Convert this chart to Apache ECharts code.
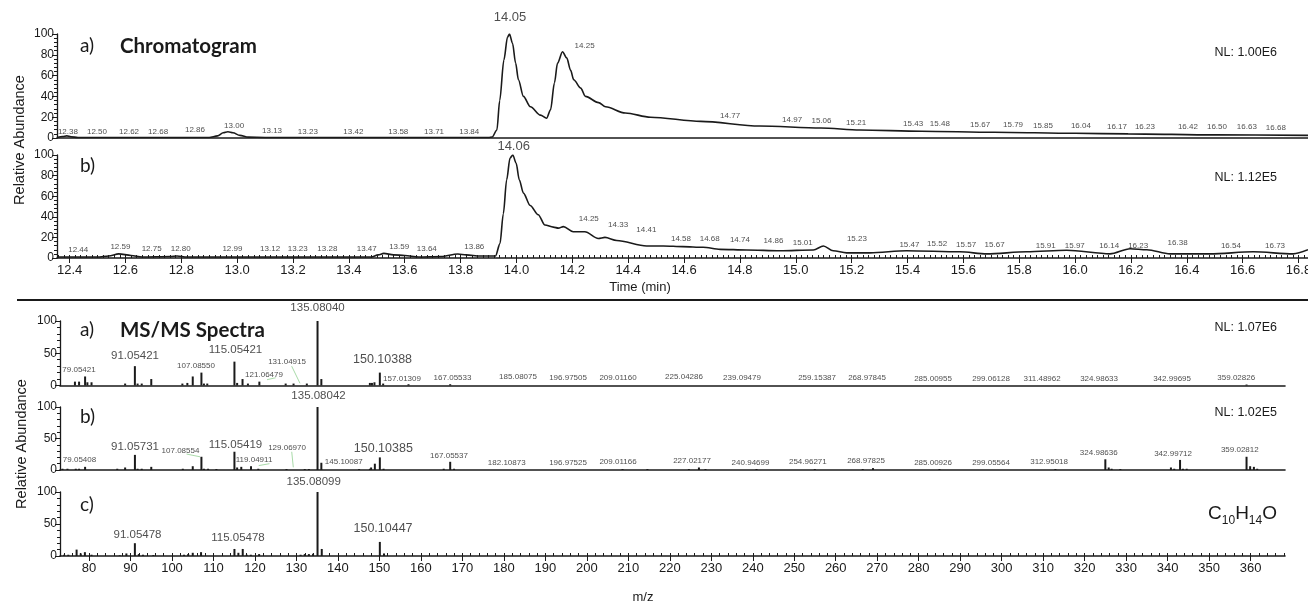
<!DOCTYPE html>
<html>
<head>
<meta charset="utf-8">
<script src="https://cdn.jsdelivr.net/npm/echarts@6.0.0/dist/echarts.min.js"></script>
<style>html,body{margin:0;padding:0;background:#fff}#chart{width:1308px;height:603px}</style>
</head>
<body>
<div id="chart"></div>
<script>
// chromatogram traces (time in min, relative abundance %)
var chromATime = [12.355,12.375,12.39,12.405,12.43,12.6,12.9,12.93,12.95,12.967,12.985,13.01,13.04,13.1,13.5,13.9,13.913,13.93,13.94,13.955,13.968,13.975,13.986,13.997,14.007,14.025,14.05,14.086,14.108,14.122,14.136,14.147,14.165,14.18,14.194,14.205,14.23,14.247,14.294,14.319,14.39,14.48,14.66,14.87,15.09,15.23,15.45,15.71,16.0,16.19,16.5,16.834];
var chromAValue = [0.5,1.5,2,1.2,0.5,0.5,0.5,2,5,6,5,2.5,0.8,0.5,0.5,0.5,1,7.7,36,75,97,100,91,72,56,40,30,22,19,27,53,72,83,77,65,56,48,40,34,30,24,20,16,11.5,9.6,7.7,6.5,5.5,4.5,4,3,2.5];
var chromBTime = [12.355,12.5,12.54,12.576,12.62,12.66,12.76,12.785,12.82,13.0,13.48,13.505,13.525,13.56,13.6,13.65,13.73,13.79,13.82,13.87,13.925,13.941,13.953,13.965,13.977,13.987,13.999,14.01,14.025,14.049,14.078,14.102,14.132,14.15,14.168,14.203,14.245,14.293,14.317,14.359,14.466,14.526,14.596,14.668,14.729,14.824,14.944,15.063,15.099,15.134,15.182,15.266,15.397,15.588,15.684,15.827,15.97,16.125,16.197,16.257,16.34,16.483,16.638,16.781,16.834];
var chromBValue = [1,1,2,4,2.5,1,1.5,2,1,1,1,3,4.5,3,2.5,1,1.5,3.9,3,2,2,14,43,76,97,100,92,76,63,51,42,32,30,29,30.5,25.5,25.5,19,20,17,11.7,11.7,11,10.4,8.4,7.8,7,7.8,11.7,7,5,5,7,6,4,6,7.5,4,9,8,4,4,6,4,8];

// peak annotations [time, abundance, text]
var chromALabels = [[12.394,6,'12.38'],[12.498,6,'12.50'],[12.613,6,'12.62'],[12.717,6,'12.68'],[12.849,7.7,'12.86'],[12.989,11.8,'13.00'],[13.125,7.4,'13.13'],[13.253,6.4,'13.23'],[13.416,6.4,'13.42'],[13.577,6.4,'13.58'],[13.705,6.4,'13.71'],[13.831,6,'13.84'],[13.977,116,'14.05'],[14.244,88.7,'14.25'],[14.765,21,'14.77'],[14.987,17.3,'14.97'],[15.092,16.6,'15.06'],[15.216,14.7,'15.21'],[15.42,14.1,'15.43'],[15.516,13.5,'15.48'],[15.66,12.5,'15.67'],[15.778,12.5,'15.79'],[15.885,11.8,'15.85'],[16.021,11.5,'16.04'],[16.15,10.6,'16.17'],[16.25,10.6,'16.23'],[16.404,10.3,'16.42'],[16.508,10.3,'16.50'],[16.615,10.6,'16.63'],[16.719,9.6,'16.68']];
var chromBLabels = [[12.431,8.4,'12.44'],[12.582,10.4,'12.59'],[12.694,8.7,'12.75'],[12.798,9.4,'12.80'],[12.983,8.7,'12.99'],[13.118,8.7,'13.12'],[13.217,8.7,'13.23'],[13.323,8.7,'13.28'],[13.464,8.7,'13.47'],[13.58,11,'13.59'],[13.679,8.7,'13.64'],[13.849,10.4,'13.86'],[13.99,108.7,'14.06'],[14.259,37.6,'14.25'],[14.364,32,'14.33'],[14.465,27.2,'14.41'],[14.589,19.1,'14.58'],[14.692,18.8,'14.68'],[14.8,17.5,'14.74'],[14.92,16.5,'14.86'],[15.025,14.9,'15.01'],[15.219,18.4,'15.23'],[15.407,13.3,'15.47'],[15.506,13.6,'15.52'],[15.61,13.3,'15.57'],[15.712,13.3,'15.67'],[15.895,12,'15.91'],[15.999,11.7,'15.97'],[16.122,12,'16.14'],[16.226,11.7,'16.23'],[16.367,14.9,'16.38'],[16.558,12,'16.54'],[16.716,11.7,'16.73']];

// MS/MS spectra [m/z, relative abundance %]
var msA = [[76.6,6],[77.6,6],[79.05,14],[79.6,5],[80.6,5],[88.7,3],[91.05,30],[91.7,3],[92.7,3],[95.0,10],[102.5,3],[103.7,4],[105.0,14],[107.09,20],[107.7,3],[108.5,3],[115.05,37],[115.7,4],[117.0,10],[118.3,3],[121.06,6],[127.4,3],[129.3,3],[132.5,3],[135.08,100],[136.0,10],[147.7,4],[148.2,4],[148.8,5],[150.10,20],[150.9,3],[157.01,2],[167.06,2],[359.03,1.5]];
var msB = [[73.6,2],[74.8,2],[76.8,2],[77.6,2],[79.05,5],[86.8,2],[88.7,4],[91.06,24],[91.7,2],[92.7,2],[95.0,5],[102.6,2],[105.0,6],[107.09,21],[107.7,2],[108.7,2],[110.7,1.5],[115.05,29],[115.7,4],[116.7,5],[119.05,6],[120.8,2],[127.6,1.5],[132.0,1.5],[133.0,1.5],[135.08,100],[136.0,11.5],[145.1,1.5],[147.7,2],[148.0,4],[148.9,10],[150.10,20],[151.0,2],[165.5,2],[167.06,13],[168.0,2],[208.6,1.5],[214.6,1.5],[224.6,1.5],[227.02,4],[228.6,1.5],[240.9,1.5],[254.96,1.5],[266.5,1.5],[268.98,3],[285.0,1.5],[312.95,1.5],[324.99,17],[325.8,4],[326.5,2],[328.6,1.5],[340.8,4],[341.6,2],[343.0,16],[343.7,2],[344.6,2],[359.03,21],[359.9,6],[360.8,5],[361.6,2]];
var msC = [[74,2],[75.0,2],[77.0,10],[78.0,4],[79.0,6],[80.6,2],[87.4,1],[89.0,4],[91.05,20],[92.0,3],[93.0,2],[95.5,1.5],[102.9,2],[103.9,3],[105.0,5],[107.0,6],[115.05,11],[116.0,5],[117.05,11],[118.0,2],[119.0,2],[121.0,3],[131.0,2],[132.0,3],[133.0,3],[134.0,3.5],[135.08,100],[136.1,11],[150.10,22],[151.1,4]];

// peak annotations [m/z, abundance, text]
var msALabels = [[77.58,25.1,'79.05421'],[91.08,45.7,'91.05421'],[105.79,30.2,'107.08550'],[115.31,55,'115.05421'],[122.18,16.3,'121.06479'],[127.73,36.9,'131.04915'],[135.08,120.6,'135.08040'],[150.75,41,'150.10388'],[155.45,10,'157.01309'],[167.62,11.6,'167.05533'],[183.41,13.2,'185.08075'],[195.47,11.6,'196.97505'],[207.52,11.6,'209.01160'],[223.43,13.2,'225.04286'],[237.41,11.6,'239.09479'],[255.5,11.6,'259.15387'],[267.55,11.6,'268.97845'],[283.46,10,'285.00955'],[297.44,10,'299.06128'],[309.74,10,'311.48962'],[323.48,10,'324.98633'],[341.08,10,'342.99695'],[356.54,11.6,'359.02826']];
var msBLabels = [[77.7,15.8,'79.05408'],[91.08,36.3,'91.05731'],[102.05,30.5,'107.08554'],[115.31,39.5,'115.05419'],[119.77,15.8,'119.04911'],[127.73,35.9,'129.06970'],[135.32,118.5,'135.08042'],[141.4,13.1,'145.10087'],[150.94,34.3,'150.10385'],[166.78,22.6,'167.05537'],[180.69,11.5,'182.10873'],[195.47,11.5,'196.97525'],[207.52,13.1,'209.01166'],[225.36,14.7,'227.02177'],[239.46,12.2,'240.94699'],[253.28,13.1,'254.96271'],[267.31,14.7,'268.97825'],[283.46,12.2,'285.00926'],[297.44,11,'299.05564'],[311.43,13.1,'312.95018'],[323.41,27.3,'324.98636'],[341.32,25.3,'342.99712'],[357.4,31.6,'359.02812']];
var msCLabels = [[91.68,32.5,'91.05478'],[115.91,28.9,'115.05478'],[134.16,116.2,'135.08099'],[150.87,43,'150.10447']];

// leader lines from labels to their peaks [[m/z, %], [m/z, %]]
var msALeaders = [[[128.85, 30], [130.85, 3.4]], [[122.9, 9], [125.0, 12]]];
var msBLeaders = [[[103.5, 25.3], [106.75, 21]], [[128.86, 28.9], [129.24, 4.3]], [[120.9, 7], [123.5, 10]]];

var chromTicks = [12.4,12.6,12.8,13.0,13.2,13.4,13.6,13.8,14.0,14.2,14.4,14.6,14.8,15.0,15.2,15.4,15.6,15.8,16.0,16.2,16.4,16.6,16.8];
var msTicks = [80,90,100,110,120,130,140,150,160,170,180,190,200,210,220,230,240,250,260,270,280,290,300,310,320,330,340,350,360];

var FONT = '"Liberation Sans", Arial, sans-serif';
var TFONT = 'Lato, "Open Sans", sans-serif';
var INK = '#1a1a1a';
var LEAD = '#a9dba9';
var tMin = 12.355, tMax = 16.834, mzMin = 73, mzMax = 368.3;

var chromMinor = [];
for (var v = 1236; v <= 1683; v += 2) chromMinor.push(v / 100);
var msMinor = [];
for (var m = 74; m <= 368; m += 2) msMinor.push(m);

function zip(a, b) { return a.map(function (x, i) { return [x, b[i]]; }); }

function labelSize(t) {
    if (/^14\.0[56]$/.test(t)) return 13;
    if (/^150\./.test(t)) return 12.5;
    if (/^(91|115|135)\./.test(t)) return 11.5;
    return 8;
}

function labelSeries(xi, yi, list) {
    return {
        type: 'scatter', xAxisIndex: xi, yAxisIndex: yi, symbolSize: 1, clip: false, silent: true, z: 5,
        itemStyle: { color: 'transparent' },
        label: { show: true, position: 'inside', formatter: '{b}', color: '#222', fontFamily: FONT },
        data: list.map(function (d) {
            return { value: [d[0], d[1]], name: d[2], label: { fontSize: labelSize(d[2]) } };
        })
    };
}

function leaderMarks(list) {
    return {
        silent: true, symbol: ['none', 'none'], label: { show: false },
        lineStyle: { color: LEAD, width: 1, type: 'solid' },
        data: list.map(function (l) { return [{ coord: l[0] }, { coord: l[1] }]; })
    };
}

function yAxisDef(gi, interval) {
    return {
        type: 'value', gridIndex: gi, min: 0, max: 100, interval: interval,
        splitLine: { show: false },
        axisLine: { show: true, lineStyle: { color: INK, width: 1.3 } },
        axisTick: { show: true, length: 5, lineStyle: { color: INK } },
        minorTick: { show: true, splitNumber: 5, length: 3, lineStyle: { color: INK } },
        axisLabel: { color: INK, fontSize: 12, fontFamily: FONT, margin: 3 }
    };
}

function xAxisDef(gi, min, max, opts) {
    return Object.assign({
        type: 'value', gridIndex: gi, min: min, max: max,
        splitLine: { show: false },
        axisLine: { show: true, onZero: false, lineStyle: { color: INK, width: 1.6 } },
        axisTick: { show: false },
        axisLabel: { show: false }
    }, opts || {});
}

function majorX(ticks, fmt) {
    return {
        axisTick: { show: true, length: 5, customValues: ticks, lineStyle: { color: INK } },
        axisLabel: { show: true, customValues: ticks, formatter: fmt, color: INK, fontSize: 13, fontFamily: FONT, margin: 6 }
    };
}
function minorX(ticks) {
    return {
        axisLine: { show: false },
        axisTick: { show: true, length: 3, customValues: ticks, lineStyle: { color: INK } },
        axisLabel: { show: false, customValues: ticks }
    };
}

function gtext(text, x, y, size, opts) {
    return {
        type: 'text', x: x, y: y,
        style: Object.assign({ text: text, fontSize: size, fontFamily: FONT, fill: INK, align: 'left', verticalAlign: 'middle' }, opts || {})
    };
}

var chart = echarts.init(document.getElementById('chart'));
var option = {
    animation: false,
    backgroundColor: '#fff',
    grid: [
        { left: 57, top: 34, width: 1251, height: 104, outerBoundsMode: 'none' },
        { left: 57, top: 155, width: 1251, height: 103, outerBoundsMode: 'none' },
        { left: 60, top: 321, width: 1225, height: 64.5, outerBoundsMode: 'none' },
        { left: 60, top: 407, width: 1225, height: 63, outerBoundsMode: 'none' },
        { left: 60, top: 492, width: 1225, height: 64, outerBoundsMode: 'none' }
    ],
    xAxis: [
        xAxisDef(0, tMin, tMax),
        xAxisDef(1, tMin, tMax, majorX(chromTicks, function (v) { return v.toFixed(1); })),
        xAxisDef(1, tMin, tMax, minorX(chromMinor)),
        xAxisDef(2, mzMin, mzMax),
        xAxisDef(3, mzMin, mzMax),
        xAxisDef(4, mzMin, mzMax, majorX(msTicks, function (v) { return String(v); })),
        xAxisDef(4, mzMin, mzMax, minorX(msMinor))
    ],
    yAxis: [yAxisDef(0, 20), yAxisDef(1, 20), yAxisDef(2, 50), yAxisDef(3, 50), yAxisDef(4, 50)],
    series: [
        { type: 'line', xAxisIndex: 0, yAxisIndex: 0, data: zip(chromATime, chromAValue), showSymbol: false, smooth: 0.3, smoothMonotone: 'x', lineStyle: { color: INK, width: 1.6 } },
        { type: 'line', xAxisIndex: 1, yAxisIndex: 1, data: zip(chromBTime, chromBValue), showSymbol: false, smooth: 0.3, smoothMonotone: 'x', lineStyle: { color: INK, width: 1.6 } },
        { type: 'bar', xAxisIndex: 3, yAxisIndex: 2, data: msA, barWidth: 2, itemStyle: { color: INK }, markLine: leaderMarks(msALeaders) },
        { type: 'bar', xAxisIndex: 4, yAxisIndex: 3, data: msB, barWidth: 2, itemStyle: { color: INK }, markLine: leaderMarks(msBLeaders) },
        { type: 'bar', xAxisIndex: 5, yAxisIndex: 4, data: msC, barWidth: 2, itemStyle: { color: INK } },
        labelSeries(0, 0, chromALabels),
        labelSeries(1, 1, chromBLabels),
        labelSeries(3, 2, msALabels),
        labelSeries(4, 3, msBLabels),
        labelSeries(5, 4, msCLabels)
    ],
    graphic: [
        gtext('a)', 80, 46, 19, { fontFamily: TFONT }),
        gtext('Chromatogram', 120, 46, 20.5, { fontFamily: TFONT, fontWeight: 'bold' }),
        gtext('b)', 80, 166, 19, { fontFamily: TFONT }),
        gtext('a)', 80, 330, 19, { fontFamily: TFONT }),
        gtext('MS/MS Spectra', 120, 330, 20.5, { fontFamily: TFONT, fontWeight: 'bold' }),
        gtext('b)', 80, 417, 19, { fontFamily: TFONT }),
        gtext('c)', 80, 505, 19, { fontFamily: TFONT }),
        gtext('NL: 1.00E6', 1277, 53, 12.5, { align: 'right' }),
        gtext('NL: 1.12E5', 1277, 178, 12.5, { align: 'right' }),
        gtext('NL: 1.07E6', 1277, 328, 12.5, { align: 'right' }),
        gtext('NL: 1.02E5', 1277, 413, 12.5, { align: 'right' }),
        {
            type: 'text', x: 1277, y: 512,
            style: {
                text: '{a|C}{s|10}{a|H}{s|14}{a|O}', align: 'right', verticalAlign: 'middle', fill: INK,
                rich: {
                    a: { fontSize: 19, fontFamily: FONT, lineHeight: 22, verticalAlign: 'bottom', fill: INK },
                    s: { fontSize: 12, fontFamily: FONT, lineHeight: 22, verticalAlign: 'bottom', padding: [0, 0, -4, 0], fill: INK }
                }
            }
        },
        { type: 'text', x: 20, y: 140, rotation: Math.PI / 2, style: { text: 'Relative Abundance', fontSize: 14.5, fontFamily: FONT, fill: INK, align: 'center', verticalAlign: 'middle' } },
        { type: 'text', x: 22, y: 444, rotation: Math.PI / 2, style: { text: 'Relative Abundance', fontSize: 14.5, fontFamily: FONT, fill: INK, align: 'center', verticalAlign: 'middle' } },
        gtext('Time (min)', 640, 287, 13, { align: 'center' }),
        gtext('m/z', 643, 597, 13, { align: 'center' }),
        { type: 'line', shape: { x1: 17, y1: 300, x2: 1308, y2: 300 }, style: { stroke: INK, lineWidth: 2 } }
    ]
};
chart.setOption(option);
</script>
</body>
</html>
